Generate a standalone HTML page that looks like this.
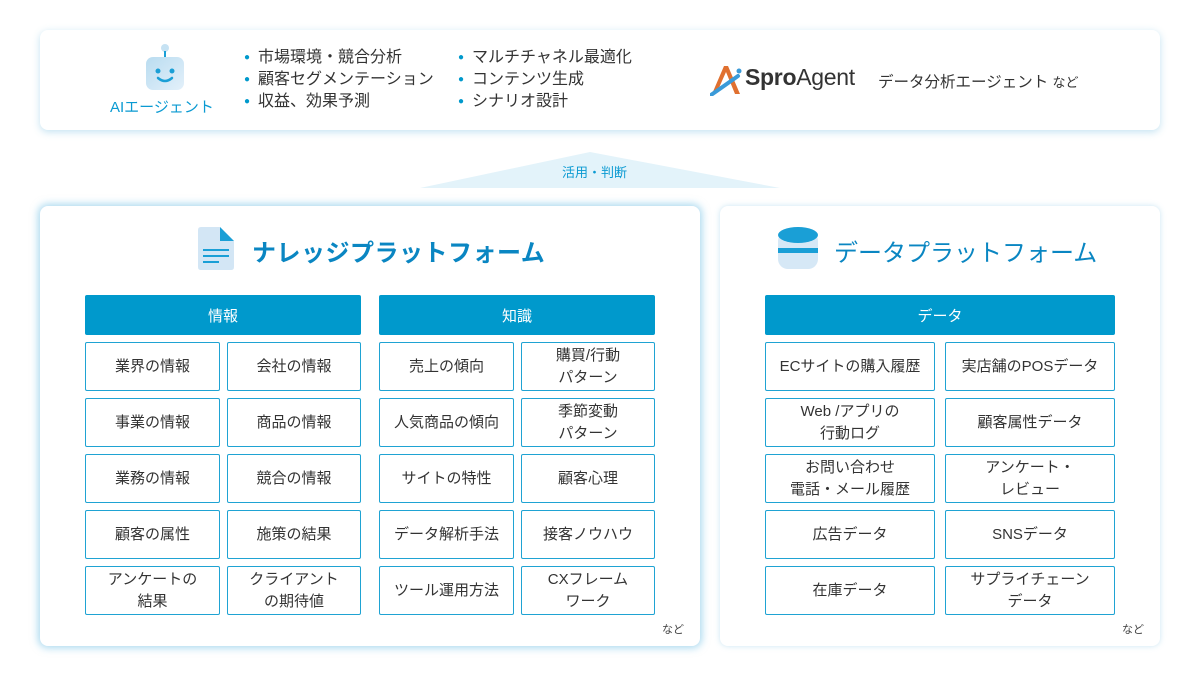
<!DOCTYPE html>
<html><head><meta charset="utf-8">
<style>
*{margin:0;padding:0;box-sizing:border-box}
body{width:1200px;height:680px;background:#fff;position:relative;overflow:hidden;font-family:"Liberation Sans","Noto Sans CJK JP",sans-serif;color:#333}
.card{position:absolute;background:#fff;border-radius:8px}
.a{position:absolute}
.hd{position:absolute;background:#0099cc;color:#fff;font-size:15px;display:flex;align-items:center;justify-content:center;height:40px;border-radius:2px}
.c{position:absolute;border:1.5px solid #1fa3d3;border-radius:2px;display:flex;align-items:center;justify-content:center;text-align:center;font-size:15px;line-height:22px;color:#333;height:49px}
.li{font-size:16px;line-height:22px;color:#333}
.li span{color:#0099cc;margin-right:8px;font-size:10px;vertical-align:2px}
.ttl{position:absolute;font-size:24px;color:#0a86c2;font-weight:bold;letter-spacing:0.5px}
.nd{position:absolute;font-size:11px;color:#444}
</style></head><body>
<div class="card" style="left:40px;top:30px;width:1120px;height:100px;box-shadow:0 2px 8px rgba(120,190,225,.45)"></div>
<svg class="a" style="left:140px;top:42px" width="50" height="50" viewBox="0 0 50 50">
<defs><linearGradient id="g1" x1="0" y1="0" x2="1" y2="1"><stop offset="0" stop-color="#b9dcf0"/><stop offset="1" stop-color="#e3f0fa"/></linearGradient></defs>
<circle cx="25" cy="6" r="4" fill="#c6e2f3"/><rect x="24" y="9" width="2" height="6" fill="#1a9fd6"/>
<rect x="6" y="15" width="38" height="33" rx="7" fill="url(#g1)"/>
<circle cx="18" cy="29" r="2.5" fill="#1a9fd6"/><circle cx="32" cy="29" r="2.5" fill="#1a9fd6"/>
<path d="M18 36 Q25 42 32 36" stroke="#1a9fd6" stroke-width="2.5" fill="none" stroke-linecap="round"/>
</svg>
<div class="a" style="left:110px;top:96px;font-size:15px;color:#0a9ad2">AIエージェント</div>
<div class="a" style="left:244px;top:47px"><div class="li"><span>●</span>市場環境・競合分析</div><div class="li"><span>●</span>顧客セグメンテーション</div><div class="li"><span>●</span>収益、効果予測</div></div>
<div class="a" style="left:458px;top:47px"><div class="li"><span>●</span>マルチチャネル最適化</div><div class="li"><span>●</span>コンテンツ生成</div><div class="li"><span>●</span>シナリオ設計</div></div>
<svg class="a" style="left:710px;top:64px" width="32" height="32" viewBox="0 0 32 32">
<path d="M2 30 L14 2 L18 2 L30 30 L25 30 L16 8 L8 26 Z" fill="#e07030"/>
<path d="M1 31 Q14 22 28 12" stroke="#3a9ad8" stroke-width="4" fill="none" stroke-linecap="round"/>
<circle cx="29" cy="7" r="2.5" fill="#3a9ad8"/></svg>
<div class="a" style="left:745px;top:64px;font-size:23px;color:#333;letter-spacing:-0.3px"><b>Spro</b>Agent</div>
<div class="a" style="left:878px;top:70px;font-size:15.5px;color:#333">データ分析エージェント <span style="font-size:13px">など</span></div>

<svg class="a" style="left:0;top:0" width="1200" height="200"><polygon points="420,188 590,152 780,188" fill="#e3f3fa"/></svg>
<div class="a" style="left:562px;top:162px;font-size:13px;color:#0a9ad2">活用・判断</div>

<div class="card" style="left:40px;top:206px;width:660px;height:440px;box-shadow:0 0 8px 2px rgba(100,185,225,.55)"></div>
<div class="card" style="left:720px;top:206px;width:440px;height:440px;box-shadow:0 0 6px rgba(120,190,225,.4)"></div>

<svg class="a" style="left:196px;top:225px" width="40" height="46" viewBox="0 0 40 46">
<path d="M3 2 H24 L38 16 V42 Q38 45 35 45 H5 Q2 45 2 42 V5 Q2 2 5 2Z" fill="#d3e6f5"/>
<path d="M24 2 L38 16 H24Z" fill="#1a9fd6"/>
<rect x="7" y="24" width="26" height="2" fill="#1a9fd6"/><rect x="7" y="30" width="26" height="2" fill="#1a9fd6"/><rect x="7" y="36" width="16" height="2" fill="#1a9fd6"/></svg>
<div class="ttl" style="left:252px;top:233px">ナレッジプラットフォーム</div>
<svg class="a" style="left:776px;top:225px" width="44" height="48" viewBox="0 0 44 48">
<rect x="2" y="6" width="40" height="38" rx="10" fill="#d6e8f6"/>
<ellipse cx="22" cy="10" rx="20" ry="8" fill="#1a9fd6"/>
<rect x="2" y="23" width="40" height="5" fill="#1a9fd6"/></svg>
<div class="ttl" style="left:834px;top:233px;font-weight:normal;letter-spacing:0">データプラットフォーム</div>

<div class="hd" style="left:85px;top:295px;width:276px">情報</div>
<div class="hd" style="left:379px;top:295px;width:276px">知識</div>
<div class="hd" style="left:765px;top:295px;width:350px">データ</div>

<div class="c" style="left:85px;top:342px;width:135px">業界の情報</div>
<div class="c" style="left:227px;top:342px;width:134px">会社の情報</div>
<div class="c" style="left:85px;top:398px;width:135px">事業の情報</div>
<div class="c" style="left:227px;top:398px;width:134px">商品の情報</div>
<div class="c" style="left:85px;top:454px;width:135px">業務の情報</div>
<div class="c" style="left:227px;top:454px;width:134px">競合の情報</div>
<div class="c" style="left:85px;top:510px;width:135px">顧客の属性</div>
<div class="c" style="left:227px;top:510px;width:134px">施策の結果</div>
<div class="c" style="left:85px;top:566px;width:135px">アンケートの<br>結果</div>
<div class="c" style="left:227px;top:566px;width:134px">クライアント<br>の期待値</div>

<div class="c" style="left:379px;top:342px;width:135px">売上の傾向</div>
<div class="c" style="left:521px;top:342px;width:134px">購買/行動<br>パターン</div>
<div class="c" style="left:379px;top:398px;width:135px">人気商品の傾向</div>
<div class="c" style="left:521px;top:398px;width:134px">季節変動<br>パターン</div>
<div class="c" style="left:379px;top:454px;width:135px">サイトの特性</div>
<div class="c" style="left:521px;top:454px;width:134px">顧客心理</div>
<div class="c" style="left:379px;top:510px;width:135px">データ解析手法</div>
<div class="c" style="left:521px;top:510px;width:134px">接客ノウハウ</div>
<div class="c" style="left:379px;top:566px;width:135px">ツール運用方法</div>
<div class="c" style="left:521px;top:566px;width:134px">CXフレーム<br>ワーク</div>

<div class="c" style="left:765px;top:342px;width:170px">ECサイトの購入履歴</div>
<div class="c" style="left:945px;top:342px;width:170px">実店舗のPOSデータ</div>
<div class="c" style="left:765px;top:398px;width:170px">Web /アプリの<br>行動ログ</div>
<div class="c" style="left:945px;top:398px;width:170px">顧客属性データ</div>
<div class="c" style="left:765px;top:454px;width:170px">お問い合わせ<br>電話・メール履歴</div>
<div class="c" style="left:945px;top:454px;width:170px">アンケート・<br>レビュー</div>
<div class="c" style="left:765px;top:510px;width:170px">広告データ</div>
<div class="c" style="left:945px;top:510px;width:170px">SNSデータ</div>
<div class="c" style="left:765px;top:566px;width:170px">在庫データ</div>
<div class="c" style="left:945px;top:566px;width:170px">サプライチェーン<br>データ</div>

<div class="nd" style="left:662px;top:621px">など</div>
<div class="nd" style="left:1122px;top:621px">など</div>
</body></html>
